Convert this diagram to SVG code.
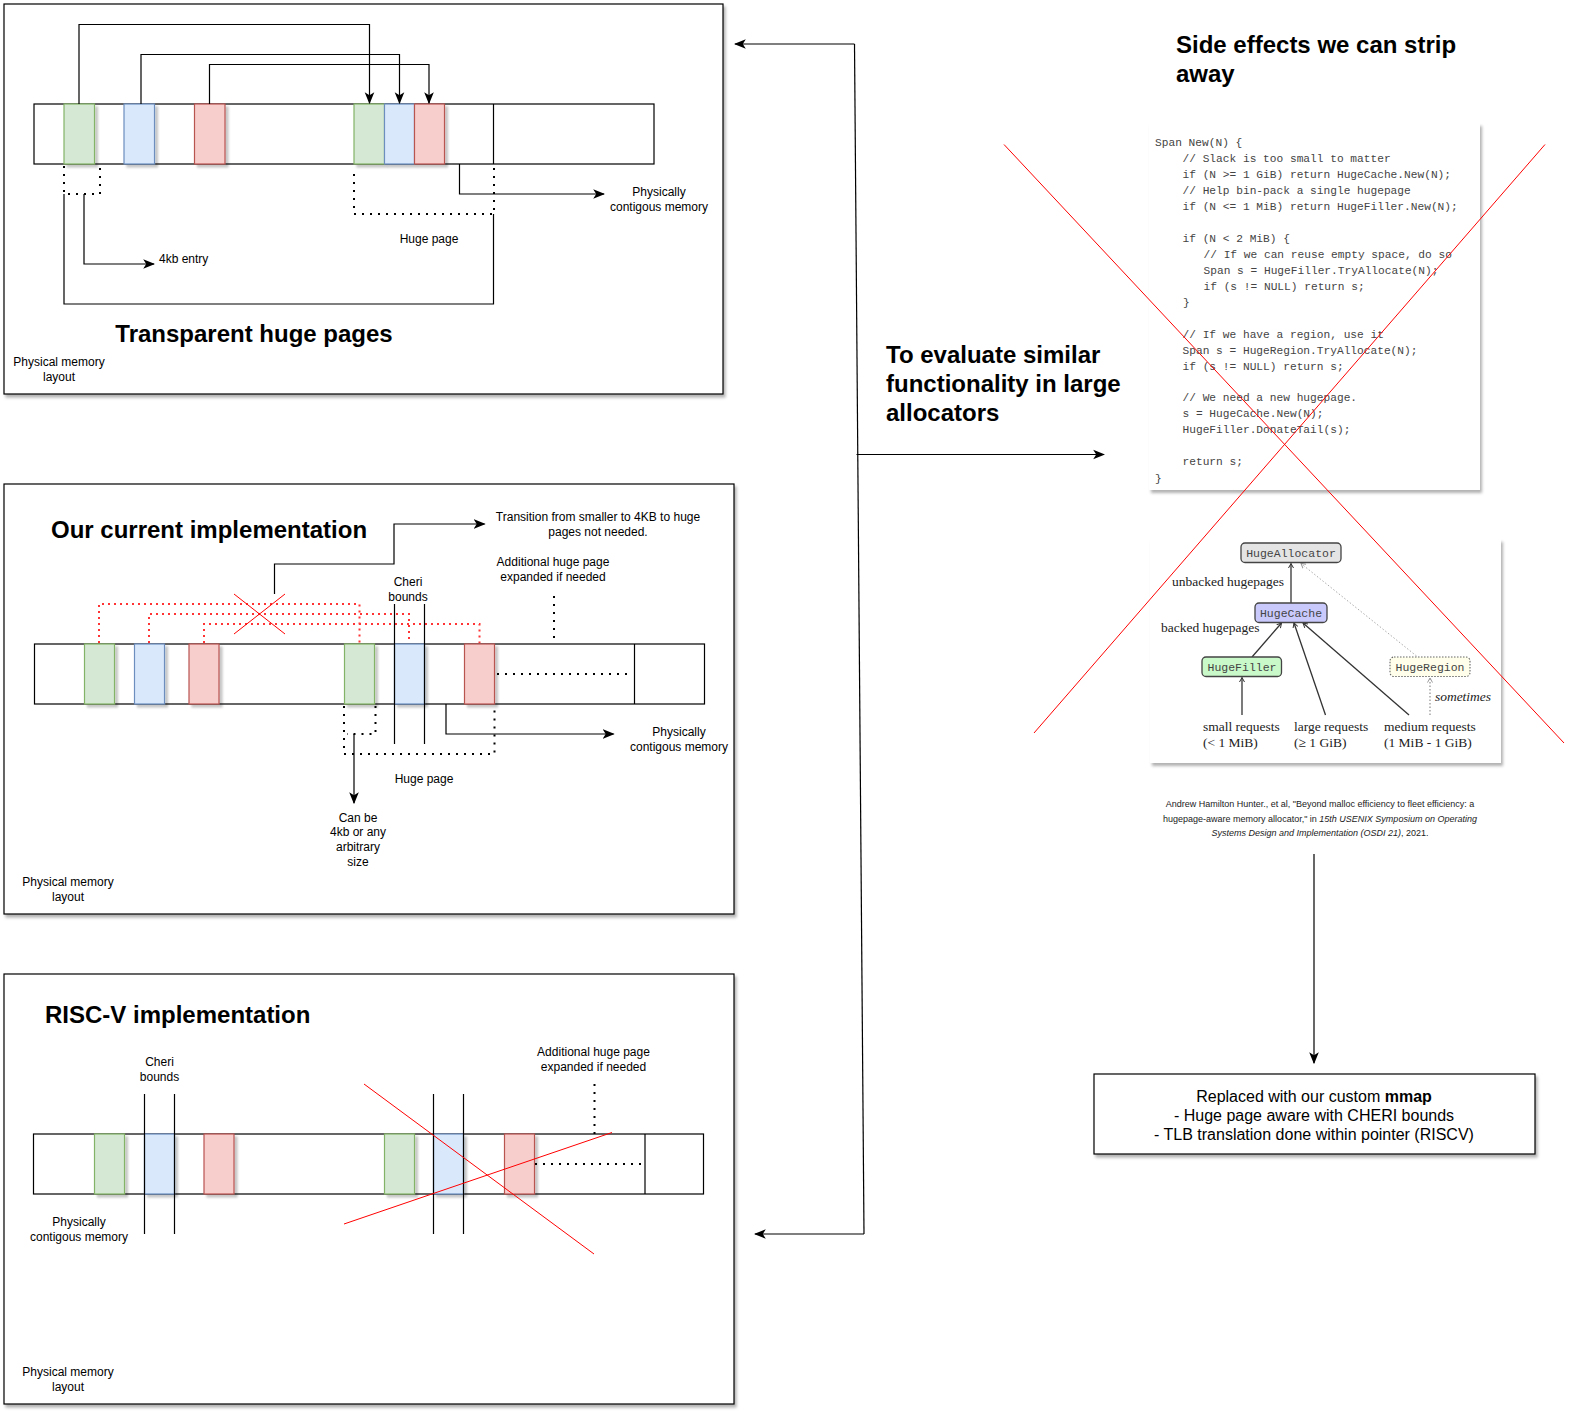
<svg xmlns="http://www.w3.org/2000/svg" width="1572" height="1412" viewBox="0 0 1572 1412">
<defs>
<filter id="sh" x="-5%" y="-5%" width="110%" height="115%">
<feDropShadow dx="2" dy="3" stdDeviation="1.5" flood-color="#000" flood-opacity="0.3"/>
</filter>
<filter id="shb" x="-20%" y="-10%" width="150%" height="130%">
<feDropShadow dx="3" dy="3" stdDeviation="1.2" flood-color="#000" flood-opacity="0.22"/>
</filter>
<marker id="arr" markerUnits="userSpaceOnUse" markerWidth="12" markerHeight="12" viewBox="0 0 10 10" refX="9" refY="5" orient="auto">
<path d="M0,1 L10,5 L0,9 L2.5,5 z" fill="#000"/>
</marker>
<marker id="sa" markerUnits="userSpaceOnUse" markerWidth="6" markerHeight="6" viewBox="0 0 6 6" refX="5" refY="3" orient="auto">
<path d="M0.5,0.5 L5,3 L0.5,5.5" fill="none" stroke="#333" stroke-width="1"/>
</marker>
<marker id="sag" markerUnits="userSpaceOnUse" markerWidth="6" markerHeight="6" viewBox="0 0 6 6" refX="5" refY="3" orient="auto">
<path d="M0.5,0.5 L5,3 L0.5,5.5" fill="none" stroke="#999" stroke-width="1"/>
</marker>
</defs>
<style>
.panel{fill:#fff;stroke:#000;stroke-width:1.2}
.bar{fill:#fff;stroke:#000;stroke-width:1.2}
.g{fill:#d5e8d4;stroke:#82b366;stroke-width:1.2}
.b{fill:#dae8fc;stroke:#6c8ebf;stroke-width:1.2}
.r{fill:#f8cecc;stroke:#b85450;stroke-width:1.2}
.ln{fill:none;stroke:#000;stroke-width:1.2}
.dot{fill:none;stroke:#000;stroke-width:2;stroke-dasharray:2 6}
.rdot{fill:none;stroke:#ff3333;stroke-width:2;stroke-dasharray:2 4}
.rx{fill:none;stroke:#ff0000;stroke-width:1}
.t{font-family:"Liberation Sans",Arial,sans-serif;font-size:12px;fill:#000}
.c{text-anchor:middle}
.h{font-family:"Liberation Sans",Arial,sans-serif;font-size:24px;font-weight:bold;fill:#000}
.code{font-family:"Liberation Mono","Courier New",monospace;font-size:11.2px;fill:#444}
.nd{font-family:"Liberation Mono","Courier New",monospace;font-size:11.5px;fill:#444;text-anchor:middle}
.sf{font-family:"Liberation Serif","Times New Roman",serif;font-size:13.5px;fill:#222}
.ge{fill:none;stroke:#333;stroke-width:1.3}
.cit{font-family:"Liberation Sans",Arial,sans-serif;font-size:9px;fill:#222;text-anchor:middle}
.mm{font-family:"Liberation Sans",Arial,sans-serif;font-size:16px;fill:#000;text-anchor:middle}
</style>

<!-- Panel 1: Transparent huge pages -->
<g id="panel-thp">
<rect class="panel" x="4" y="4" width="719" height="390" filter="url(#sh)"/>
<rect class="bar" x="34" y="104" width="620" height="60"/>
<line class="ln" x1="493.5" y1="104" x2="493.5" y2="164"/>
<g filter="url(#shb)">
<rect class="g" x="64" y="104" width="30.5" height="60"/>
<rect class="b" x="124" y="104" width="30.5" height="60"/>
<rect class="r" x="194.5" y="104" width="30.5" height="60"/>
<rect class="g" x="354" y="104" width="30.5" height="60"/>
<rect class="b" x="384.5" y="104" width="30" height="60"/>
<rect class="r" x="414.5" y="104" width="30" height="60"/>
</g>
<text class="h c" x="254" y="342">Transparent huge pages</text>
<text class="t c" x="59" y="366">Physical memory</text>
<text class="t c" x="59" y="381">layout</text>
<text class="t" x="159" y="263">4kb entry</text>
<text class="t c" x="429" y="243">Huge page</text>
<text class="t c" x="659" y="196">Physically</text>
<text class="t c" x="659" y="211">contigous memory</text>
</g>

<!-- Panel 2: Our current implementation -->
<g id="panel-current">
<rect class="panel" x="4" y="484" width="730" height="430" filter="url(#sh)"/>
<path class="rdot" d="M99,643 V604 H359.5 V643"/>
<path class="rdot" d="M149,643 V614 H409 V643"/>
<path class="rdot" d="M204,643 V624 H479.5 V643"/>
<rect class="bar" x="34.5" y="644" width="670" height="60"/>
<line class="ln" x1="634.5" y1="644" x2="634.5" y2="704"/>
<g filter="url(#shb)">
<rect class="g" x="84.5" y="644" width="30" height="60"/>
<rect class="b" x="134.5" y="644" width="30" height="60"/>
<rect class="r" x="189" y="644" width="30" height="60"/>
<rect class="g" x="344.5" y="644" width="30" height="60"/>
<rect class="b" x="394.5" y="644" width="30" height="60"/>
<rect class="r" x="464.5" y="644" width="30" height="60"/>
</g>
<line class="ln" x1="394.5" y1="604" x2="394.5" y2="744"/>
<line class="ln" x1="424.5" y1="604" x2="424.5" y2="744"/>
<line class="rx" x1="234" y1="594" x2="285" y2="634"/>
<line class="rx" x1="285" y1="594" x2="234" y2="634"/>
<text class="h" x="51" y="538">Our current implementation</text>
<text class="t c" x="598" y="521">Transition from smaller to 4KB to huge</text>
<text class="t c" x="598" y="536">pages not needed.</text>
<text class="t c" x="553" y="566">Additional huge page</text>
<text class="t c" x="553" y="581">expanded if needed</text>
<text class="t c" x="408" y="586">Cheri</text>
<text class="t c" x="408" y="601">bounds</text>
<text class="t c" x="679" y="736">Physically</text>
<text class="t c" x="679" y="751">contigous memory</text>
<text class="t c" x="424" y="783">Huge page</text>
<text class="t c" x="358" y="822">Can be</text>
<text class="t c" x="358" y="836">4kb or any</text>
<text class="t c" x="358" y="851">arbitrary</text>
<text class="t c" x="358" y="866">size</text>
<text class="t c" x="68" y="886">Physical memory</text>
<text class="t c" x="68" y="901">layout</text>
</g>

<!-- Panel 3: RISC-V implementation -->
<g id="panel-riscv">
<rect class="panel" x="4" y="974" width="730" height="430" filter="url(#sh)"/>
<rect class="bar" x="33.5" y="1134" width="670" height="60"/>
<line class="ln" x1="645" y1="1134" x2="645" y2="1194"/>
<g filter="url(#shb)">
<rect class="g" x="94.5" y="1134" width="30" height="60"/>
<rect class="b" x="144.5" y="1134" width="30" height="60"/>
<rect class="r" x="204" y="1134" width="30" height="60"/>
<rect class="g" x="384.5" y="1134" width="30" height="60"/>
<rect class="b" x="433.5" y="1134" width="30" height="60"/>
<rect class="r" x="504.5" y="1134" width="30" height="60"/>
</g>
<line class="ln" x1="144.5" y1="1094" x2="144.5" y2="1234"/>
<line class="ln" x1="174.5" y1="1094" x2="174.5" y2="1234"/>
<line class="ln" x1="433.5" y1="1094" x2="433.5" y2="1234"/>
<line class="ln" x1="463.5" y1="1094" x2="463.5" y2="1234"/>
<path class="dot" d="M594.5,1084 V1134"/>
<path class="dot" d="M535,1164 H641"/>
<line class="rx" x1="364" y1="1084" x2="594" y2="1254"/>
<line class="rx" x1="344" y1="1224" x2="612" y2="1132.5"/>
<text class="h" x="45" y="1023">RISC-V implementation</text>
<text class="t c" x="159.5" y="1066">Cheri</text>
<text class="t c" x="159.5" y="1081">bounds</text>
<text class="t c" x="593.5" y="1056">Additional huge page</text>
<text class="t c" x="593.5" y="1071">expanded if needed</text>
<text class="t c" x="79" y="1226">Physically</text>
<text class="t c" x="79" y="1241">contigous memory</text>
<text class="t c" x="68" y="1376">Physical memory</text>
<text class="t c" x="68" y="1391">layout</text>
</g>

<!-- Right side -->
<g id="title-side-effects">
<text class="h" x="1176" y="53">Side effects we can strip</text>
<text class="h" x="1176" y="82">away</text>
</g>
<g id="title-evaluate">
<text class="h" x="886" y="363">To evaluate similar</text>
<text class="h" x="886" y="392">functionality in large</text>
<text class="h" x="886" y="421">allocators</text>
</g>

<g id="code-image">
<rect x="1149" y="123" width="331" height="367" fill="#fff" filter="url(#sh)"/>
<text class="code" x="1155" y="146">Span New(N) {</text>
<text class="code" x="1182.5" y="162">// Slack is too small to matter</text>
<text class="code" x="1182.5" y="178">if (N &gt;= 1 GiB) return HugeCache.New(N);</text>
<text class="code" x="1182.5" y="194">// Help bin-pack a single hugepage</text>
<text class="code" x="1182.5" y="210">if (N &lt;= 1 MiB) return HugeFiller.New(N);</text>
<text class="code" x="1182.5" y="242">if (N &lt; 2 MiB) {</text>
<text class="code" x="1203.5" y="258">// If we can reuse empty space, do so</text>
<text class="code" x="1203.5" y="274">Span s = HugeFiller.TryAllocate(N);</text>
<text class="code" x="1203.5" y="289.5">if (s != NULL) return s;</text>
<text class="code" x="1183" y="306">}</text>
<text class="code" x="1182.5" y="337.5">// If we have a region, use it</text>
<text class="code" x="1182.5" y="353.5">Span s = HugeRegion.TryAllocate(N);</text>
<text class="code" x="1182.5" y="369.5">if (s != NULL) return s;</text>
<text class="code" x="1182.5" y="401">// We need a new hugepage.</text>
<text class="code" x="1182.5" y="417">s = HugeCache.New(N);</text>
<text class="code" x="1182.5" y="433">HugeFiller.DonateTail(s);</text>
<text class="code" x="1182.5" y="465">return s;</text>
<text class="code" x="1155" y="481.5">}</text>
</g>

<g id="graph-image">
<rect x="1150" y="539" width="351" height="224" fill="#fff" filter="url(#sh)"/>
<g>
<line class="ge" x1="1291" y1="603" x2="1291" y2="563.5" marker-end="url(#sa)"/>
<line class="ge" x1="1252" y1="657" x2="1281.5" y2="623" marker-end="url(#sa)"/>
<line class="ge" x1="1242" y1="715" x2="1242" y2="677.5" marker-end="url(#sa)"/>
<line class="ge" x1="1325.5" y1="715" x2="1294" y2="623" marker-end="url(#sa)"/>
<line class="ge" x1="1409" y1="715" x2="1303" y2="623" marker-end="url(#sa)"/>
<line x1="1430" y1="715" x2="1430" y2="678" stroke="#777" stroke-width="1" stroke-dasharray="1.5 2" marker-end="url(#sag)"/>
<line x1="1416.5" y1="656" x2="1301" y2="563.5" stroke="#aaa" stroke-width="1" stroke-dasharray="1.5 2" marker-end="url(#sag)"/>
</g>
<g id="node-hugeallocator">
<rect x="1241" y="543" width="100" height="19.5" rx="4" fill="#e4e4e4" stroke="#444" stroke-width="1.3"/>
<text class="nd" x="1291" y="556.5">HugeAllocator</text>
</g>
<g id="node-hugecache">
<rect x="1255" y="603" width="72" height="19.5" rx="4" fill="#c9c9fb" stroke="#444" stroke-width="1.3"/>
<text class="nd" x="1291" y="616.5">HugeCache</text>
</g>
<g id="node-hugefiller">
<rect x="1202" y="657" width="79.5" height="19.5" rx="4" fill="#c9f9c9" stroke="#444" stroke-width="1.3"/>
<text class="nd" x="1242" y="670.5">HugeFiller</text>
</g>
<g id="node-hugeregion">
<rect x="1390" y="657" width="80" height="19.5" rx="4" fill="#fefeea" stroke="#666" stroke-width="1.1" stroke-dasharray="1.5 1.5"/>
<text class="nd" x="1430" y="670.5">HugeRegion</text>
</g>
<text class="sf" x="1172" y="586">unbacked hugepages</text>
<text class="sf" x="1161" y="632">backed hugepages</text>
<text class="sf" x="1463" y="701" text-anchor="middle" font-style="italic">sometimes</text>
<text class="sf" x="1203" y="730.5">small requests</text>
<text class="sf" x="1203" y="747">(&lt; 1 MiB)</text>
<text class="sf" x="1294" y="730.5">large requests</text>
<text class="sf" x="1294" y="747">(≥ 1 GiB)</text>
<text class="sf" x="1384" y="730.5">medium requests</text>
<text class="sf" x="1384" y="747">(1 MiB - 1 GiB)</text>
</g>

<g id="citation">
<text class="cit" x="1320" y="807">Andrew Hamilton Hunter., et al, "Beyond malloc efficiency to fleet efficiency: a</text>
<text class="cit" x="1320" y="821.5">hugepage-aware memory allocator," in <tspan font-style="italic">15th USENIX Symposium on Operating</tspan></text>
<text class="cit" x="1320" y="836"><tspan font-style="italic">Systems Design and Implementation (OSDI 21)</tspan>, 2021.</text>
</g>

<!-- Red X over images -->
<g id="strike-out">
<line class="rx" x1="1004" y1="144.5" x2="1564" y2="743"/>
<line class="rx" x1="1545" y1="144.5" x2="1034" y2="733"/>
</g>

<g id="node-mmap">
<rect x="1094" y="1074" width="441" height="80" fill="#fff" stroke="#000" stroke-width="1.2" filter="url(#sh)"/>
<text class="mm" x="1314" y="1101.5">Replaced with our custom <tspan font-weight="bold">mmap</tspan></text>
<text class="mm" x="1314" y="1120.5">- Huge page aware with CHERI bounds</text>
<text class="mm" x="1314" y="1139.5">- TLB translation done within pointer (RISCV)</text>
</g>

<!-- Connectors -->
<g id="connectors">
<path class="ln" d="M79,104 V24.5 H369.5 V103" marker-end="url(#arr)"/>
<path class="ln" d="M141,104 V54.5 H399.5 V103" marker-end="url(#arr)"/>
<path class="ln" d="M209.5,104 V64.5 H429 V103" marker-end="url(#arr)"/>
<path class="dot" d="M64,166 V194 H100 V166"/>
<path class="ln" d="M84,194 V264 H154" marker-end="url(#arr)"/>
<path class="dot" d="M354,174 V214 H494 V166"/>
<path class="ln" d="M64,194 V304 H493.5 V214"/>
<path class="ln" d="M459.5,164 V194 H604" marker-end="url(#arr)"/>
<path class="ln" d="M274.5,594 V564 H394 V524 H484.5" marker-end="url(#arr)"/>
<path class="dot" d="M554,596 V643"/>
<path class="dot" d="M497,674 H632"/>
<path class="dot" d="M344,706 V754 H494.5 V706"/>
<path class="dot" d="M375.5,706 V734 H347"/>
<path class="ln" d="M354,734 V803" marker-end="url(#arr)"/>
<path class="ln" d="M446,704 V734 H613.5" marker-end="url(#arr)"/>
<path class="ln" d="M854.5,44 L864,1234"/>
<path class="ln" d="M854.5,44 H735" marker-end="url(#arr)"/>
<path class="ln" d="M864,1234 H755" marker-end="url(#arr)"/>
<path class="ln" d="M856.5,454.5 H1104" marker-end="url(#arr)"/>
<path class="ln" d="M1314,854 V1063" marker-end="url(#arr)"/>
</g>
</svg>
